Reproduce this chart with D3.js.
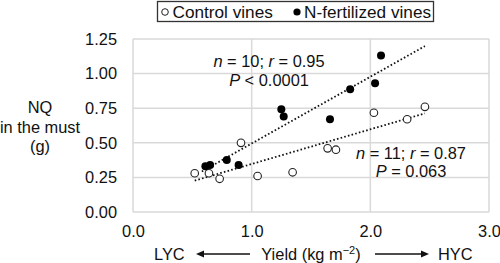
<!DOCTYPE html>
<html>
<head>
<meta charset="utf-8">
<script src="https://cdn.jsdelivr.net/npm/d3@7"></script>
<style>
  body { margin: 0; background: #fff; }
  text { font-family: "Liberation Sans", Arial, sans-serif; fill: #111; }
</style>
</head>
<body>
<div id="chart"></div>
<script>
// Data
const controlYield = [0.52, 0.64, 0.73, 0.91, 1.05, 1.345, 1.64, 1.71, 2.03, 2.31, 2.46];
const controlNQ    = [0.28, 0.28, 0.24, 0.50, 0.26, 0.287, 0.46, 0.45, 0.717, 0.67, 0.76];
const fertYield    = [0.61, 0.65, 0.79, 0.89, 1.25, 1.27, 1.66, 1.83, 2.04, 2.09];
const fertNQ       = [0.33, 0.34, 0.376, 0.34, 0.742, 0.69, 0.67, 0.887, 0.93, 1.13];

// x-extent of each fitted line (kg m-2)
const controlFitRange = [0.52, 2.46];
const fertFitRange    = [0.58, 2.46];

const xTicks = [0, 1, 2, 3];
const yTicks = [0, 0.25, 0.5, 0.75, 1.0, 1.25];
const seriesNames = ['Control vines', 'N-fertilized vines'];
const statsControl = ['11', '0.87', '= 0.063'];
const statsFert    = ['10', '0.95', '< 0.0001'];

const width = 500, height = 263;
const fontSize = 16.4;
const legendFont = 17.2;

const svg = d3.select('#chart').append('svg')
  .attr('width', width)
  .attr('height', height);

const x = d3.scaleLinear().domain([0, 3]).range([133, 489]);
const y = d3.scaleLinear().domain([0, 1.25]).range([212, 39]);

// Gridlines
const grid = svg.append('g').attr('stroke', '#d9d9d9').attr('stroke-width', 1.5);
grid.selectAll('.hg').data(yTicks).join('line')
  .attr('x1', x(0)).attr('x2', x(3))
  .attr('y1', d => y(d)).attr('y2', d => y(d));
grid.selectAll('.vg').data(xTicks).join('line')
  .attr('x1', d => x(d)).attr('x2', d => x(d))
  .attr('y1', y(0)).attr('y2', y(1.25));

// Axes (labels only)
const yAxis = d3.axisLeft(y).tickValues(yTicks).tickFormat(d3.format('.2f')).tickSize(0).tickPadding(16);
const xAxis = d3.axisBottom(x).tickValues(xTicks).tickFormat(d3.format('.1f')).tickSize(0).tickPadding(13);
const yAxisG = svg.append('g').attr('transform', `translate(${x(0)},0)`).call(yAxis);
const xAxisG = svg.append('g').attr('transform', `translate(0,${y(0)})`).call(xAxis);
[yAxisG, xAxisG].forEach(g => {
  g.select('.domain').remove();
  g.selectAll('text').style('font-size', fontSize + 'px').attr('fill', '#111');
});

// Regression lines
function fit(xs, ys) {
  const mx = d3.mean(xs), my = d3.mean(ys);
  const sxy = d3.sum(xs, (v, i) => (v - mx) * (ys[i] - my));
  const sxx = d3.sum(xs, v => (v - mx) ** 2);
  const b = sxy / sxx;
  return v => my + b * (v - mx);
}
const fitC = fit(controlYield, controlNQ);
const fitF = fit(fertYield, fertNQ);
const line = d3.line().x(d => x(d[0])).y(d => y(d[1]));
[[controlFitRange, fitC], [fertFitRange, fitF]].forEach(([r, f]) => {
  svg.append('path')
    .datum(r.map(v => [v, f(v)]))
    .attr('d', line)
    .attr('fill', 'none')
    .attr('stroke', '#111')
    .attr('stroke-width', 1.8)
    .attr('stroke-dasharray', '1.6,2.2');
});

// Points
const r = 3.8;
svg.append('g').selectAll('circle')
  .data(controlYield.map((v, i) => [v, controlNQ[i]]))
  .join('circle')
  .attr('cx', d => x(d[0])).attr('cy', d => y(d[1])).attr('r', r)
  .attr('fill', '#fff').attr('stroke', '#222').attr('stroke-width', 1.1);
svg.append('g').selectAll('circle')
  .data(fertYield.map((v, i) => [v, fertNQ[i]]))
  .join('circle')
  .attr('cx', d => x(d[0])).attr('cy', d => y(d[1])).attr('r', r + 0.2)
  .attr('fill', '#000');

// Stats annotations
function stats(cx, by, s) {
  const t1 = svg.append('text').attr('x', cx).attr('y', by)
    .attr('text-anchor', 'middle').style('font-size', fontSize + 'px');
  t1.append('tspan').attr('font-style', 'italic').text('n');
  t1.append('tspan').text(` = ${s[0]}; `);
  t1.append('tspan').attr('font-style', 'italic').text('r');
  t1.append('tspan').text(` = ${s[1]}`);
  const t2 = svg.append('text').attr('x', cx).attr('y', by + 18.5)
    .attr('text-anchor', 'middle').style('font-size', fontSize + 'px');
  t2.append('tspan').attr('font-style', 'italic').text('P');
  t2.append('tspan').text(` ${s[2]}`);
}
stats(269, 67, statsFert);
stats(411, 158.5, statsControl);

// Legend
const legend = svg.append('g');
legend.append('rect')
  .attr('x', 157.5).attr('y', 1.5).attr('width', 276).attr('height', 20)
  .attr('fill', '#fff').attr('stroke', '#333').attr('stroke-width', 1.3);
legend.append('circle').attr('cx', 165).attr('cy', 12).attr('r', 3.3)
  .attr('fill', '#fff').attr('stroke', '#222').attr('stroke-width', 1);
legend.append('text').attr('x', 172.5).attr('y', 18).style('font-size', legendFont + 'px').text(seriesNames[0]);
legend.append('circle').attr('cx', 297).attr('cy', 12).attr('r', 3.6).attr('fill', '#000');
legend.append('text').attr('x', 304).attr('y', 18).style('font-size', legendFont + 'px').text(seriesNames[1]);

// Y title
const yTitle = ['NQ', 'in the must', '(g)'];
svg.append('g').selectAll('text').data(yTitle).join('text')
  .attr('x', 40).attr('y', (d, i) => 113 + i * 19.5)
  .attr('text-anchor', 'middle')
  .style('font-size', fontSize + 'px')
  .text(d => d);

// X title with arrows
const xt = svg.append('text').attr('x', 311).attr('y', 260)
  .attr('text-anchor', 'middle').style('font-size', fontSize + 'px');
xt.append('tspan').text('Yield (kg m');
xt.append('tspan').attr('dy', -6).style('font-size', '11px').text('\u22122');
xt.append('tspan').attr('dy', 6).text(')');

svg.append('text').attr('x', 154).attr('y', 260).style('font-size', fontSize + 'px').text('LYC');
svg.append('text').attr('x', 438).attr('y', 260).style('font-size', fontSize + 'px').text('HYC');

const arrowY = 254;
svg.append('line').attr('x1', 202).attr('x2', 250).attr('y1', arrowY).attr('y2', arrowY)
  .attr('stroke', '#111').attr('stroke-width', 1.3);
svg.append('path').attr('d', `M196,${arrowY} L204,${arrowY - 3.5} L204,${arrowY + 3.5} Z`).attr('fill', '#111');
svg.append('line').attr('x1', 375).attr('x2', 422).attr('y1', arrowY).attr('y2', arrowY)
  .attr('stroke', '#111').attr('stroke-width', 1.3);
svg.append('path').attr('d', `M429,${arrowY} L421,${arrowY - 3.5} L421,${arrowY + 3.5} Z`).attr('fill', '#111');
</script>
</body>
</html>
